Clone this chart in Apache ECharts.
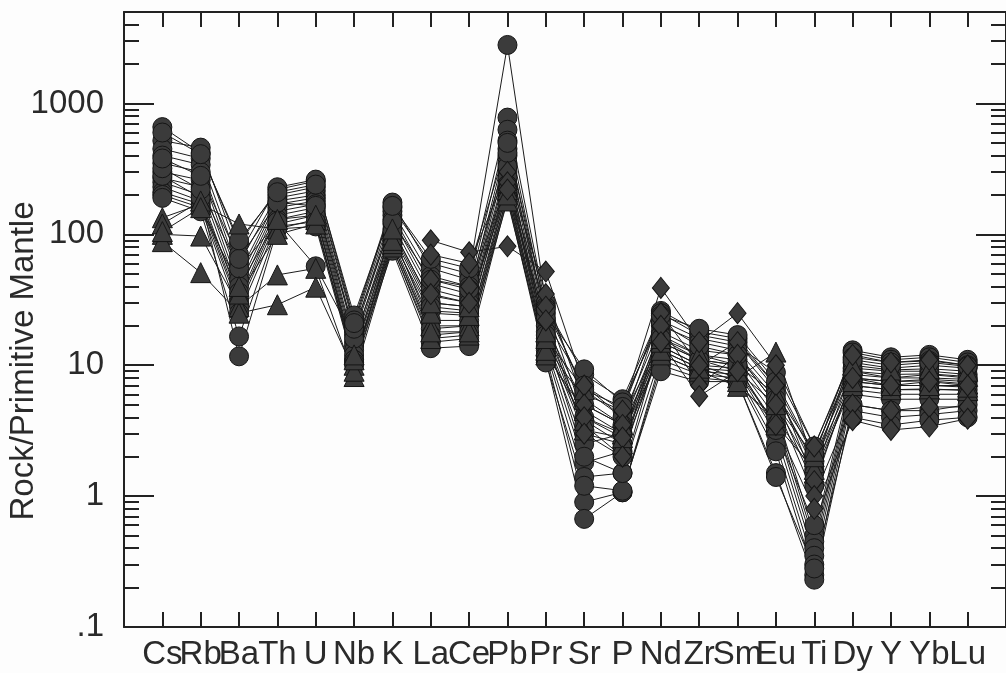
<!DOCTYPE html>
<html>
<head>
<meta charset="utf-8">
<script src="https://cdn.jsdelivr.net/npm/echarts@6/dist/echarts.min.js"></script>
<style>
html,body{margin:0;padding:0;background:#fdfdfd;}
#chart{width:1006px;height:673px;}
</style>
</head>
<body>
<div id="chart"></div>
<script>
// Elements (x categories)
const elements = ['Cs','Rb','Ba','Th','U','Nb','K','La','Ce','Pb','Pr','Sr','P','Nd','Zr','Sm','Eu','Ti','Dy','Y','Yb','Lu'];
// Y axis ticks
const yMajorTicks = [0.1, 1, 10, 100, 1000];
const yMinorTicks = [0.2,0.3,0.4,0.5,0.6,0.7,0.8,0.9,2,3,4,5,6,7,8,9,20,30,40,50,60,70,80,90,200,300,400,500,600,700,800,900,2000,3000,4000];
const yMajorLabels = ['.1','1','10','100','1000'];

// Circle samples
const c01 = [660,420,85,220,255,24,160,60,50,2800,30,6,4.5,26,18,16,7,2.0,13,11.5,12,11];
const c02 = [520,460,70,229,262,22,175,55,45,780,28,8.5,5.5,25,17,15,6.5,1.6,12.5,11,11.5,10.5];
const c03 = [450,380,60,200,230,20,150,48,40,630,25,9.3,5.2,22,16,14,8.8,2.4,11.5,10.5,10.8,10];
const c04 = [400,340,50,190,215,18,140,42,35,520,22,7,4.0,20,15,13,6,1.8,10.5,9.5,10,9.5];
const c05 = [350,300,45,180,200,17,130,38,32,450,20,5,3.5,18,13,12,5,1.5,9.5,9,9,8.5];
const c06 = [300,260,40,170,190,15,120,34,30,400,18,4,3.0,17,12,11,4.5,0.5,9,8,8.5,8];
const c07 = [270,230,36,160,180,14,110,30,28,350,16,3,2.5,15,11,10,4,0.45,8,7.5,7.8,7.5];
const c08 = [250,200,32,150,170,13,100,26,25,300,15,2.5,3.0,14,10,9.5,3.5,0.4,7.5,7,7,7];
const c09 = [230,180,30,140,160,12,95,22,22,270,14,1.8,2.2,13,9.5,9,3,0.35,7,6.5,6.5,6.5];
const c10 = [210,170,28,130,150,11,90,19,20,240,13,1.4,1.5,12,9,8.5,2.5,0.3,6.5,6,6,6];
const c11 = [200,160,25,120,140,11,85,17,18,220,12,0.9,1.07,11,8.5,8,2.2,0.25,6,5.5,5.5,5.5];
const c12 = [190,150,16.6,115,125,10.5,80,15,16,200,11,0.67,1.07,10,8,7.5,1.5,0.23,5,4.5,4.5,5];
const c13 = [280,190,11.7,110,115,10,75,13.5,14,190,10.5,1.2,1.1,9,7.5,7.5,1.4,0.28,4.5,4,4.2,4.5];
const c14 = [320,220,55,125,57,16,105,28,26,330,17,2.0,1.5,16,11,10,3.2,0.6,4,3.5,3.8,4];
const c15 = [380,280,65,175,165,19,125,45,38,420,23,3.5,2.0,21,14,12,5.5,1.2,8.5,8,8,7.8];
const c16 = [600,410,90,210,240,21,165,65,55,500,27,6.5,4.8,24,19,17,7.5,2.1,11,10,10.5,9.8];

// Triangle samples
const t01 = [134,170,120,110,130,10,100,20,20,220,14,5.5,3.5,14,10,8,12.6,1.8,8,7.5,7.6,7.2];
const t02 = [100,97,28,49,55,8.2,80,16,17,180,12,4.5,3,12,9,6.9,4,1.5,7,6.5,6.6,6.4];
const t03 = [88,51,25,29,39.5,9,85,18,18,200,13,3.8,2.5,13,9.5,7.5,3.5,1.6,7.5,7,7,6.8];
const t04 = [120,180,35,100,120,11,90,25,24,250,16,6.5,4,15,11,9,5,2.0,9,8.5,8.6,8.2];
const t05 = [105,160,40,130,140,12,110,30,28,260,18,3.2,2.8,16,12,10,6,2.2,10,9.2,9.4,9];

// Diamond samples (no data for Cs..K)
const d01 = [null,null,null,null,null,null,null,90,73,81,52,7,4.5,39,15,25,10,2.4,12,10.5,11,10];
const d02 = [null,null,null,null,null,null,null,70,60,300,35,5,3.5,25,10,15,7,1.3,8,7,7.5,7];
const d03 = [null,null,null,null,null,null,null,45,40,250,28,4,2.8,20,7,12,5,1.0,5,4.5,4.8,4.8];
const d04 = [null,null,null,null,null,null,null,35,30,220,22,3,2.0,15,5.8,9,3.5,0.8,3.8,3.2,3.4,3.9];

const circles = [c01,c02,c03,c04,c05,c06,c07,c08,c09,c10,c11,c12,c13,c14,c15,c16];
const triangles = [t01,t02,t03,t04,t05];
const diamonds = [d01,d02,d03,d04];

const xTickVals = elements.map((e,i)=>i+1);
const xOddVals = xTickVals.filter(v=>v%2===1);
const xEvenVals = xTickVals.filter(v=>v%2===0);

function mk(arr, symbol, size){
  return {
    type:'line',
    xAxisIndex:0, yAxisIndex:0,
    data: arr.map((v,i)=> v==null ? [i+1,null] : [i+1,v]),
    symbol: symbol,
    symbolSize: size,
    showSymbol: true,
    connectNulls:false,
    lineStyle:{color:'#1c1c1c', width:1},
    itemStyle:{color:'#3b3b3b', borderColor:'#151515', borderWidth:1, opacity:1},
    emphasis:{disabled:true},
    animation:false,
    z:2
  };
}

const series = [];
circles.forEach(a=>series.push(mk(a,'circle',19)));
triangles.forEach(a=>series.push(mk(a,'triangle',20)));
diamonds.forEach(a=>series.push(mk(a,'diamond',[17,21])));

const axisCol = '#222';
const fontFam = '"Liberation Sans", Arial, sans-serif';

function xAx(pos, labelVals, showLine){
  return {
    type:'value', min:0, max:23, position:pos,
    axisLine:{show:showLine, onZero:false, lineStyle:{color:axisCol, width:2}},
    axisTick:{show:showLine, inside:true, length:15, customValues:xTickVals, lineStyle:{color:axisCol, width:2}},
    axisLabel:{show:!!labelVals, customValues:labelVals || xTickVals, margin:11, fontSize:33, color:'#2a2a2a', fontFamily:fontFam,
      showMinLabel:true, showMaxLabel:true, hideOverlap:false,
      formatter:(v)=>elements[Math.round(v)-1] || ''},
    splitLine:{show:false}
  };
}
function yAx(pos, major, showLabel, showLine){
  return {
    type:'log', logBase:10, min:0.1, max:5000, position:pos,
    axisLine:{show:showLine, onZero:false, lineStyle:{color:axisCol, width:2}},
    axisTick:{show:true, inside:true, length: major?30:15, customValues: major?yMajorTicks:yMinorTicks, lineStyle:{color:axisCol, width:2}},
    axisLabel:{show:showLabel, customValues:yMajorTicks, margin:20, fontSize:33, color:'#2a2a2a', fontFamily:fontFam,
      showMinLabel:true, showMaxLabel:true, hideOverlap:false,
      formatter:(v)=>{ const k = yMajorTicks.findIndex(t=>Math.abs(Math.log10(t)-Math.log10(v))<1e-6); return k>=0?yMajorLabels[k]:''; }},
    splitLine:{show:false}, minorTick:{show:false}
  };
}

const chart = echarts.init(document.getElementById('chart'), null, {renderer:'canvas'});
chart.setOption({
  backgroundColor:'#fdfdfd',
  animation:false,
  grid:{left:124, top:12, width:888, height:615, containLabel:false},
  xAxis:[xAx('bottom', xOddVals, true), xAx('top', null, true), xAx('bottom', xEvenVals, false)],
  yAxis:[yAx('left', true, true, true), yAx('left', false, false, false), yAx('right', true, false, true), yAx('right', false, false, false)],
  graphic:[{
    type:'text', x:24, y:361, rotation:Math.PI/2,
    style:{text:'Rock/Primitive Mantle', font:'33px "Liberation Sans", Arial, sans-serif', fill:'#2a2a2a', align:'center', verticalAlign:'middle'}
  }],
  series: series
});
</script>
</body>
</html>
